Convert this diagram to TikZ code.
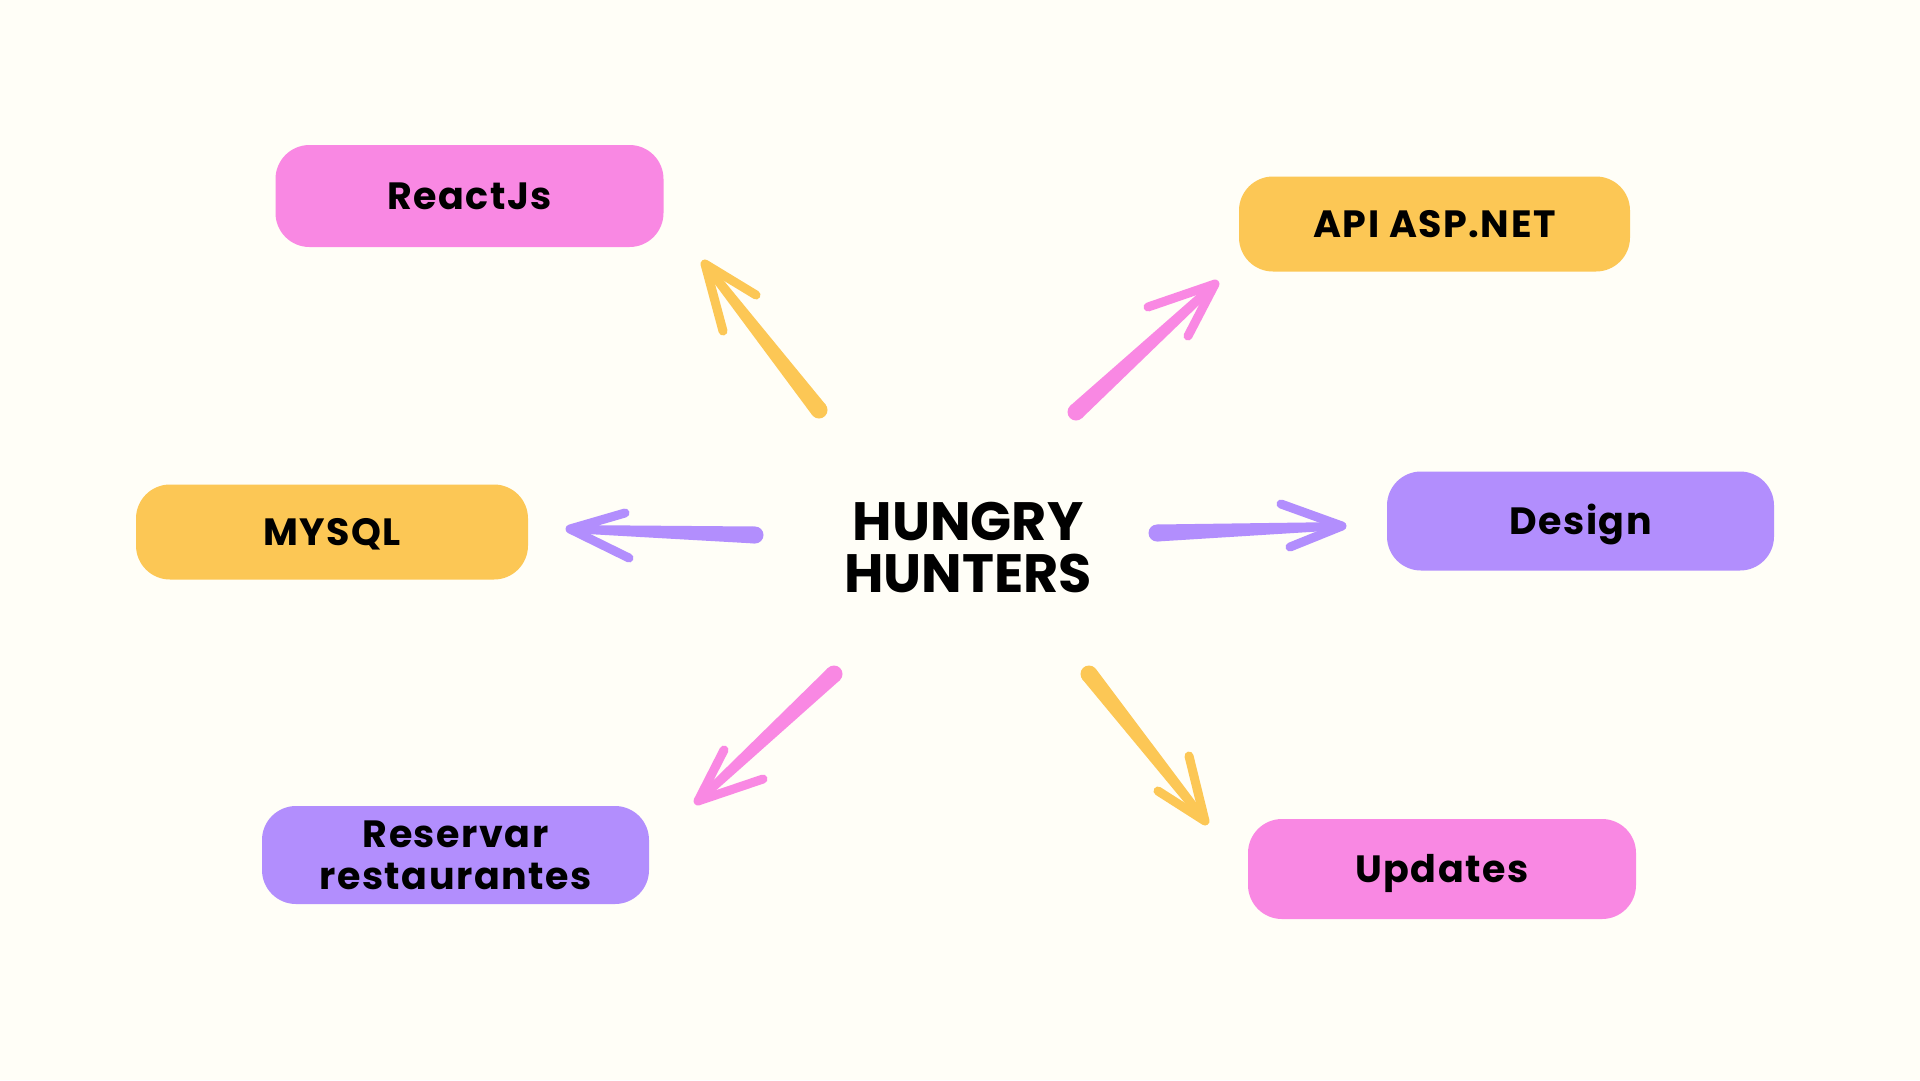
\documentclass[tikz,border=0pt]{standalone}
\usepackage{fontspec}
\usetikzlibrary{calc}
\setmainfont{Poppins}
\newfontfamily\boxfont{Poppins}[LetterSpace=4]
\definecolor{bg}{HTML}{FFFEF7}
\definecolor{pinkc}{HTML}{F988E3}
\definecolor{yellowc}{HTML}{FCC755}
\definecolor{purplec}{HTML}{B28EFD}
\tikzset{
  box/.style={draw=none, rounded corners=34pt, minimum width=388pt, minimum height=98pt,
    inner sep=0pt, align=center, font=\boxfont\fontsize{38}{42}\selectfont\bfseries, text=black},
  onebox/.style={box, text height=27pt, text depth=0pt},
  barb/.style={line width=9pt, line cap=round, line join=round},
}
% #1 colour, #2 tail, #3 tip, #4 barb end a, #5 barb end b
\newcommand\hharrow[5]{%
  \fill[#1] ($(#2)!8.5pt!90:(#3)$) -- ($(#3)!4pt!-90:(#2)$) -- ($(#3)!4pt!90:(#2)$)
    -- ($(#2)!8.5pt!-90:(#3)$) -- cycle;
  \fill[#1] (#2) circle[radius=8.5pt];
  \draw[barb, #1] (#4) -- (#3) -- (#5);
}
\begin{document}
\begin{tikzpicture}[x=1pt,y=-1pt]
\fill[bg] (0,0) rectangle (1920,1080);
\useasboundingbox (0,0) rectangle (1920,1080);

% boxes
\node[onebox, fill=pinkc, minimum width=388pt, minimum height=102pt] (react) at (469.5,196) {ReactJs};
\node[onebox, fill=yellowc, minimum width=391pt, minimum height=95pt] (api) at (1434.5,224) {API ASP.NET};
\node[onebox, fill=yellowc, minimum width=392pt, minimum height=95pt] (mysql) at (332,532) {MYSQL};
\node[onebox, fill=purplec, minimum width=387pt, minimum height=99pt] (design) at (1580.5,521) {Design};
\node[box, fill=purplec, minimum width=387pt, minimum height=98pt] (reservar) at (455.5,855) {Reservar\\restaurantes};
\node[onebox, fill=pinkc, minimum width=388pt, minimum height=100pt] (updates) at (1442,869) {Updates};

% center
\node[align=center, font=\fontsize{54}{52}\selectfont\bfseries] (hh) at (968,548) {HUNGRY\\HUNTERS};

% arrow coordinates
\coordinate (nwT) at (819,410); \coordinate (nwH) at (705,264);
\coordinate (nwA) at (723,331); \coordinate (nwB) at (756,295);
\coordinate (neT) at (1076,412); \coordinate (neH) at (1215,284);
\coordinate (neA) at (1148,307); \coordinate (neB) at (1188,336);
\coordinate (wT) at (755,535); \coordinate (wH) at (570,529);
\coordinate (wA) at (625,513); \coordinate (wB) at (629,558);
\coordinate (eT) at (1157,533); \coordinate (eH) at (1342,526);
\coordinate (eA) at (1281,504); \coordinate (eB) at (1290,547);
\coordinate (swT) at (834,674); \coordinate (swH) at (698,801);
\coordinate (swA) at (724,750); \coordinate (swB) at (763,779);
\coordinate (seT) at (1089,674); \coordinate (seH) at (1205,821);
\coordinate (seA) at (1189,756); \coordinate (seB) at (1158,791);

% arrows
\hharrow{yellowc}{nwT}{nwH}{nwA}{nwB}
\hharrow{pinkc}{neT}{neH}{neA}{neB}
\hharrow{purplec}{wT}{wH}{wA}{wB}
\hharrow{purplec}{eT}{eH}{eA}{eB}
\hharrow{pinkc}{swT}{swH}{swA}{swB}
\hharrow{yellowc}{seT}{seH}{seA}{seB}
\end{tikzpicture}
\end{document}
